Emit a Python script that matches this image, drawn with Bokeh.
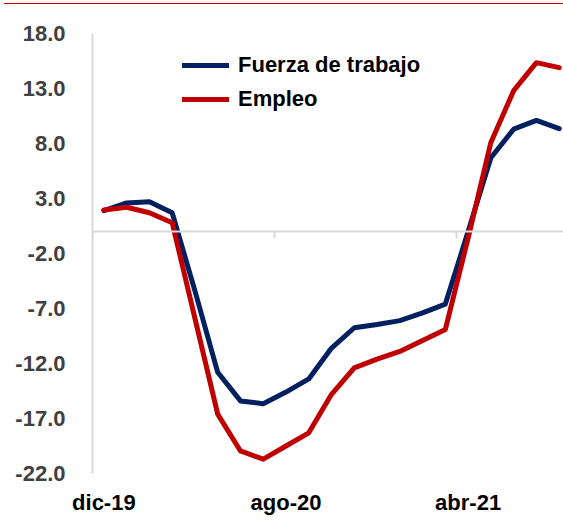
from bokeh.plotting import figure
from bokeh.layouts import column
from bokeh.models import (Range1d, FixedTicker, LinearAxis, Legend, LegendItem,
                          PrintfTickFormatter, Div)
from bokeh.embed import file_html
from bokeh.resources import INLINE

months = ["dic-19", "ene-20", "feb-20", "mar-20", "abr-20", "may-20", "jun-20",
          "jul-20", "ago-20", "sep-20", "oct-20", "nov-20", "dic-20", "ene-21",
          "feb-21", "mar-21", "abr-21", "may-21", "jun-21", "jul-21", "ago-21"]
fuerza = [1.9, 2.6, 2.7, 1.7, -5.4, -12.8, -15.4, -15.65, -14.6, -13.4, -10.6,
          -8.75, -8.45, -8.1, -7.4, -6.6, 0.0, 6.7, 9.3, 10.1, 9.35]
empleo = [1.95, 2.2, 1.7, 0.8, -7.9, -16.6, -19.95, -20.7, -19.5, -18.3, -14.8,
          -12.4, -11.6, -10.9, -9.9, -8.9, -0.6, 8.1, 12.8, 15.35, 14.9]
y_ticks = [-22, -17, -12, -7, -2, 3, 8, 13, 18]
label_idx = [0, 8, 16]
boundary_ticks = [-0.5, 7.5, 15.5]

x = list(range(len(months)))

FONT = "Liberation Sans"
AXIS_GRAY = "#d9d9d9"
W = 563
RULE_H = 5
H = 529 - RULE_H
LEFT, TOP, BOTTOM = 92, 33 - RULE_H, 56

p = figure(width=W, height=H, output_backend="svg", toolbar_location=None,
           x_range=Range1d(-0.5, 20.19), y_range=Range1d(-22, 18),
           min_border_left=LEFT, min_border_right=0, min_border_top=TOP,
           min_border_bottom=BOTTOM)
p.outline_line_color = None
p.xgrid.visible = False
p.ygrid.visible = False

# y axis
yax = p.yaxis[0]
yax.ticker = FixedTicker(ticks=y_ticks)
yax.formatter = PrintfTickFormatter(format="%.1f")
yax.axis_line_color = AXIS_GRAY
yax.axis_line_width = 2
yax.major_tick_line_color = None
yax.minor_tick_line_color = None
yax.major_label_standoff = 21
yax.major_label_text_font = FONT
yax.major_label_text_font_style = "bold"
yax.major_label_text_font_size = "22px"
yax.major_label_text_color = "#404040"

# x axis labels at bottom
xax = p.xaxis[0]
xax.ticker = FixedTicker(ticks=label_idx)
xax.major_label_overrides = {i: months[i] for i in label_idx}
xax.axis_line_color = None
xax.major_tick_line_color = None
xax.minor_tick_line_color = None
xax.major_label_standoff = 10
xax.major_label_text_font = FONT
xax.major_label_text_font_style = "bold"
xax.major_label_text_font_size = "22px"
xax.major_label_text_color = "#000000"

# zero line with category-boundary ticks
zax = LinearAxis(fixed_location=0, ticker=FixedTicker(ticks=boundary_ticks),
                 major_label_overrides={t: "" for t in boundary_ticks},
                 major_label_text_font_size="0px",
                 axis_line_color=AXIS_GRAY, axis_line_width=2,
                 major_tick_line_color=AXIS_GRAY, major_tick_line_width=2,
                 major_tick_in=7, major_tick_out=0,
                 minor_tick_line_color=None)
p.add_layout(zax, "above")

r1 = p.line(x, fuerza, line_color="#002060", line_width=5,
            line_join="round", line_cap="round")
r2 = p.line(x, empleo, line_color="#C00000", line_width=5,
            line_join="round", line_cap="round")
p.renderers = [r1, r2]

legend = Legend(items=[LegendItem(label="Fuerza de trabajo", renderers=[r1]),
                       LegendItem(label="Empleo", renderers=[r2])],
                location=(90, 359), orientation="vertical",
                glyph_width=47, glyph_height=30, label_height=30,
                label_standoff=9, spacing=4, padding=0, margin=0,
                border_line_alpha=0, background_fill_alpha=0,
                label_text_font=FONT, label_text_font_style="bold",
                label_text_font_size="22px", label_text_color="#000000")
p.add_layout(legend, "center")

# thin red rule across the top of the page
rule = Div(text="", width=W - 4, height=1, margin=(3, 0, 1, 4),
           styles={"background-color": "#C00000"})

layout = column(rule, p, spacing=0)

open("out.html", "w").write(file_html(layout, INLINE))
